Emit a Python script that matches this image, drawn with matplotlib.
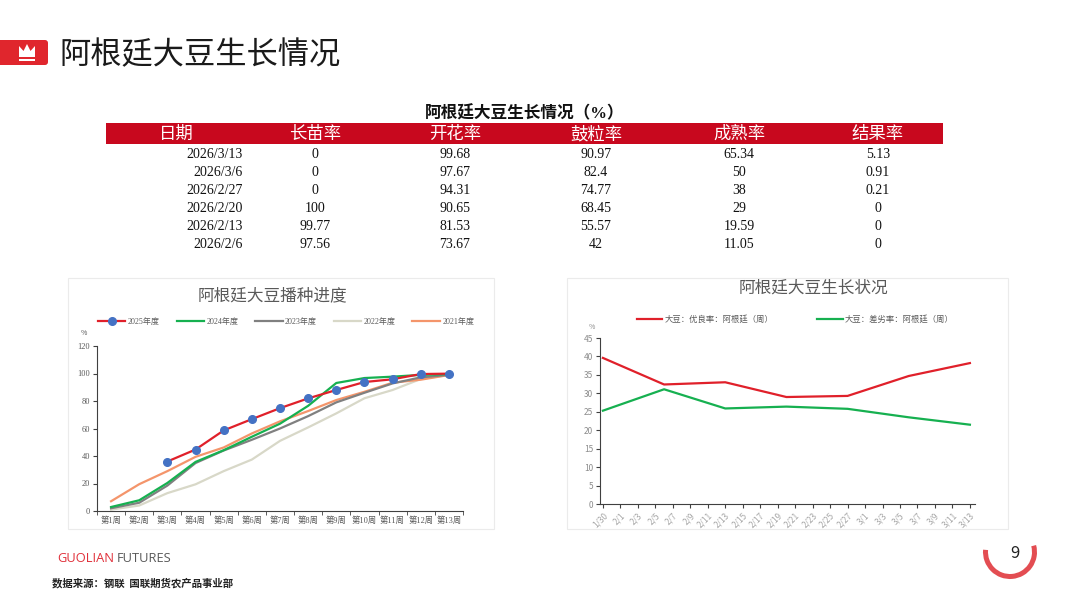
import numpy as np
import pandas as pd
import matplotlib
matplotlib.use("Agg")
from matplotlib import pyplot as plt
from matplotlib.patches import Rectangle, FancyBboxPatch, Polygon, Wedge

plt.rcParams['font.family'] = ['Noto Sans CJK SC', 'DejaVu Sans']
SERIF = ['Liberation Serif', 'Noto Sans CJK SC']

# ---- table data ----
table_title = '阿根廷大豆生长情况（%）'
table_cols = ['日期', '长苗率', '开花率', '鼓粒率', '成熟率', '结果率']
table_dates = ['2026/3/13', '2026/3/6', '2026/2/27', '2026/2/20', '2026/2/13', '2026/2/6']
emergence = ['0', '0', '0', '100', '99.77', '97.56']
flowering = ['99.68', '97.67', '94.31', '90.65', '81.53', '73.67']
pod_filling = ['90.97', '82.4', '74.77', '68.45', '55.57', '42']
maturity = ['65.34', '50', '38', '29', '19.59', '11.05']
fruiting = ['5.13', '0.91', '0.21', '0', '0', '0']

# ---- planting progress (left chart) ----
weeks = list(range(1, 14))
week_labels = ['第%d周' % w for w in weeks]
y2025 = [np.nan, np.nan, 36.0, 44.7, 58.6, 66.8, 74.8, 81.9, 88.0, 93.8, 95.8, 99.6, 99.9]
y2024 = [2.9, 7.8, 20.4, 35.7, 44.2, 54.0, 63.5, 76.5, 93.1, 96.7, 97.7, 99.0, 99.6]
y2023 = [2.0, 6.0, 18.5, 34.9, 44.0, 51.8, 60.0, 69.0, 79.0, 86.0, 92.8, 97.2, 99.0]
y2022 = [1.0, 4.0, 13.0, 19.4, 29.0, 37.4, 51.0, 60.8, 71.0, 82.0, 88.0, 96.0, 99.0]
y2021 = [7.1, 19.5, 29.0, 39.4, 46.2, 56.4, 65.2, 72.7, 80.7, 86.7, 93.3, 95.5, 98.9]

# ---- crop condition (right chart) ----
cond_dates = pd.to_datetime(['2026-01-30', '2026-02-06', '2026-02-13', '2026-02-20',
                             '2026-02-27', '2026-03-06', '2026-03-13'])
good_rate = [39.6, 32.4, 33.0, 29.0, 29.3, 34.7, 38.2]
poor_rate = [25.3, 31.1, 25.9, 26.4, 25.8, 23.5, 21.5]

RED = '#E0202A'
fig = plt.figure(figsize=(10.8, 6.08), dpi=100)
bg = fig.add_axes([0, 0, 1, 1])
bg.set_xlim(0, 1080)
bg.set_ylim(608, 0)
bg.axis('off')

# header
bg.add_patch(FancyBboxPatch((-10, 40), 58, 25, boxstyle='round,pad=0,rounding_size=3',
                            fc='#E0262D', ec='none'))
bg.add_patch(Polygon([(19, 57), (19, 46), (23.5, 51), (27, 44), (30.5, 51), (35, 46), (35, 57)],
                     closed=True, fc='white', ec='none'))
bg.add_patch(Rectangle((19, 59), 16, 1.6, fc='white', ec='none'))
bg.text(59, 55, '阿根廷大豆生长情况', fontsize=22.5, color='#1a1a1a', va='center', ha='left')

# table
bg.text(525, 114, table_title, fontsize=12, fontweight='bold', family=SERIF,
        ha='center', va='center', color='#111111')
bg.add_patch(Rectangle((106, 122.5), 837, 21, fc='#C8081E', ec='none'))
col_x = [176, 315, 455, 596, 739, 878]
for cx, name in zip(col_x, table_cols):
    bg.text(cx, 135, name, fontsize=12.5, family=SERIF, color='white', ha='center', va='center')
row_y = [154 + 18 * i for i in range(len(table_dates))]
for i, ry in enumerate(row_y):
    bg.text(243, ry, table_dates[i], fontsize=10, family=SERIF, ha='right', va='center', color='#111111')
    for cx, col in zip(col_x[1:], [emergence, flowering, pod_filling, maturity, fruiting]):
        bg.text(cx, ry, col[i], fontsize=10, family=SERIF, ha='center', va='center', color='#111111')

# chart panels
for x0, x1 in [(68, 494), (567, 1008)]:
    bg.add_patch(Rectangle((x0, 278), x1 - x0, 251, fc='none', ec='#EBEBEB', lw=0.8))

# ---- left chart ----
ax1 = fig.add_axes([97 / 1080, 1 - 511 / 608, 366 / 1080, 165 / 608])
series = [('2025年度', y2025, RED, 5), ('2024年度', y2024, '#16B050', 4),
          ('2023年度', y2023, '#808080', 3), ('2022年度', y2022, '#D8D8C8', 1),
          ('2021年度', y2021, '#F4956B', 2)]
for name, vals, col, z in series:
    if name == '2025年度':
        ax1.plot(weeks, vals, color=col, lw=1.6, marker='o', ms=5.5, mfc='#4472C4', mec='#4472C4',
                 label=name, zorder=z)
    else:
        ax1.plot(weeks, vals, color=col, lw=1.6, label=name, zorder=z)
ax1.set_xlim(0.5, 13.5)
ax1.set_ylim(0, 120)
ax1.set_yticks(range(0, 121, 20))
ax1.set_xticks(weeks)
ax1.set_xticklabels(week_labels)
ax1.set_xticks(np.arange(0.5, 14, 1), minor=True)
ax1.tick_params(axis='x', which='major', length=0, pad=4)
ax1.tick_params(axis='x', which='minor', length=3, color='#404040')
ax1.tick_params(axis='y', length=3, color='#404040', pad=2)
for lab in ax1.get_xticklabels() + ax1.get_yticklabels():
    lab.set_family(SERIF)
    lab.set_fontsize(6)
    lab.set_color('#595959')
for s in ['top', 'right']:
    ax1.spines[s].set_visible(False)
for s in ['left', 'bottom']:
    ax1.spines[s].set_color('#404040')
    ax1.spines[s].set_linewidth(0.8)
leg1 = ax1.legend(ncol=5, loc='center', bbox_to_anchor=(286 / 1080, 1 - 322 / 608),
                  bbox_transform=fig.transFigure, frameon=False,
                  handlelength=3.4, handletextpad=0.3, columnspacing=2.1,
                  prop={'family': SERIF, 'size': 5.8})
for t in leg1.get_texts():
    t.set_color('#595959')
bg.text(84, 333, '%', fontsize=5, color='#595959', ha='center', va='center')
bg.text(272, 296, '阿根廷大豆播种进度', fontsize=12, color='#595959', ha='center', va='center')

# ---- right chart ----
ax2 = fig.add_axes([600 / 1080, 1 - 504 / 608, 375 / 1080, 166 / 608])
ax2.plot(cond_dates, good_rate, color=RED, lw=1.6, label='大豆：优良率：阿根廷（周）')
ax2.plot(cond_dates, poor_rate, color='#16B050', lw=1.6, label='大豆：差劣率：阿根廷（周）')
ax2.set_ylim(0, 45)
ax2.set_yticks(range(0, 46, 5))
ticks = pd.date_range('2026-01-30', '2026-03-13', freq='2D')
ax2.set_xticks(ticks)
ax2.set_xticklabels(['%d/%d' % (d.month, d.day) for d in ticks], rotation=45,
                    ha='right', rotation_mode='anchor')
ax2.set_xlim(ticks[0] - pd.Timedelta(hours=8), ticks[-1] + pd.Timedelta(hours=14))
ax2.tick_params(axis='both', length=3, color='#404040', labelsize=6, labelcolor='#8C8C8C', pad=2)
ax2.tick_params(axis='x', labelcolor='#A6A6A6')
for s in ['top', 'right']:
    ax2.spines[s].set_visible(False)
for s in ['left', 'bottom']:
    ax2.spines[s].set_color('#404040')
    ax2.spines[s].set_linewidth(0.8)
leg2 = ax2.legend(ncol=2, loc='center', bbox_to_anchor=(795 / 1080, 1 - 319 / 608),
                  bbox_transform=fig.transFigure, frameon=False, fontsize=6,
                  handlelength=3.1, handletextpad=0.25, columnspacing=5.2)
for t in leg2.get_texts():
    t.set_color('#595959')
bg.text(592, 327, '%', fontsize=5, color='#8C8C8C', ha='center', va='center')
bg.text(813, 288, '阿根廷大豆生长状况', fontsize=12, color='#595959', ha='center', va='center')

# footer
bg.text(57, 558, 'GUOLIAN', fontsize=9.3, family='Open Sans', color='#E0303A',
        ha='left', va='center')
bg.text(117, 558, 'FUTURES', fontsize=9.3, family='Open Sans', color='#595959',
        ha='left', va='center')
bg.text(52, 583, '数据来源：钢联  国联期货农产品事业部', fontsize=7.5, fontweight='bold',
        color='#222222', ha='left', va='center')
bg.add_patch(Wedge((1010, 552), 27, -15, 185, width=5, fc='#E03A3F', ec='none', alpha=0.9))
bg.text(1015, 554, '9', fontsize=12, color='#222222', ha='center', va='center')

fig.savefig('out.png', dpi=100)
